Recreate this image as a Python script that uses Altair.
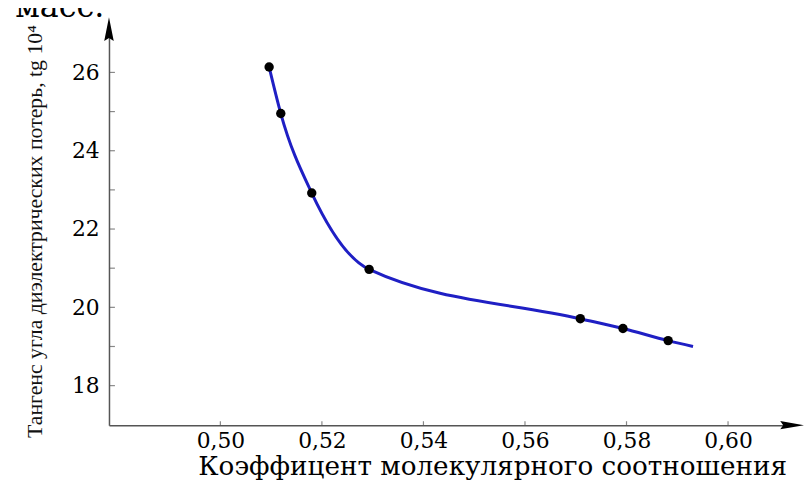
import altair as alt
import pandas as pd

# ---- data ----
x_vals = [0.5096, 0.5119, 0.5180, 0.5293, 0.5709, 0.5793, 0.5882]
y_vals = [26.14, 24.95, 22.92, 20.97, 19.71, 19.46, 19.15]
curve_end_x = [0.5931]
curve_end_y = [19.00]

x_ticks = [0.50, 0.52, 0.54, 0.56, 0.58, 0.60]
y_labels = [18, 20, 22, 24, 26]
y_ticks = [18, 19, 20, 21, 22, 23, 24, 25, 26]
x_domain = [0.47806, 0.61262]
y_domain = [16.99, 27.105]

x_title = "Коэффицент молекулярного соотношения"
y_title = "Тангенс угла диэлектрических потерь, tg 10⁴"
top_text = "х масс."

SERIF = "DejaVu Serif"
AXIS_COLOR = "#555555"

pts = pd.DataFrame({"x": x_vals, "y": y_vals})
line_df = pd.DataFrame({"x": x_vals + curve_end_x, "y": y_vals + curve_end_y})
xt_df = pd.DataFrame({"x": x_ticks, "y": [y_domain[0]] * len(x_ticks)})
yt_df = pd.DataFrame({"x": [x_domain[0]] * len(y_ticks), "y": y_ticks})
arrow_up = pd.DataFrame({"x": [x_domain[0]], "y": [y_domain[1]]})
arrow_right = pd.DataFrame({"x": [x_domain[1]], "y": [y_domain[0]]})

xs = alt.Scale(domain=x_domain, nice=False, zero=False)
ys = alt.Scale(domain=y_domain, nice=False, zero=False)

x_axis = alt.Axis(
    values=x_ticks,
    labelExpr="replace(format(datum.value, '.2f'), '.', ',')",
    ticks=False, tickSize=0, grid=False, labelFlush=False,
    labelPadding=6, labelFont=SERIF, labelFontSize=22, labelColor="black",
    domainColor=AXIS_COLOR, domainWidth=1.5,
    title=x_title, titleFont=SERIF, titleFontSize=26.5, titleFontWeight="normal",
    titleColor="black", titleX=387, titleY=50, titleAlign="center",
    titleBaseline="alphabetic",
)
y_axis = alt.Axis(
    values=y_labels, format="d",
    ticks=False, tickSize=0, grid=False, labelFlush=False,
    labelPadding=10, labelFont=SERIF, labelFontSize=22, labelColor="black",
    domainColor=AXIS_COLOR, domainWidth=1.5,
    title=y_title, titleFont="Liberation Serif", titleFontSize=22,
    titleFontWeight="normal", titleColor="#111111",
    titleX=-75, titleY=204, titleAlign="center", titleBaseline="middle",
    titleAngle=270,
)

X = alt.X("x:Q", scale=xs, axis=x_axis)
Y = alt.Y("y:Q", scale=ys, axis=y_axis)

line = alt.Chart(line_df).mark_line(
    color="#1f1fc4", strokeWidth=3, interpolate="monotone"
).encode(x=X, y=Y)

dots = alt.Chart(pts).mark_circle(color="black", size=90, opacity=1).encode(x=X, y=Y)

xticks = alt.Chart(xt_df).mark_tick(
    orient="vertical", size=4, thickness=1.2, color=AXIS_COLOR, yOffset=-2
).encode(x=X, y=Y)

yticks = alt.Chart(yt_df).mark_tick(
    orient="horizontal", size=6, thickness=1.2, color=AXIS_COLOR, xOffset=3
).encode(x=X, y=Y)

up = alt.Chart(arrow_up).mark_point(
    shape="M-0.4,1L0,-1L0.4,1L0,0.75Z", filled=True, size=576,
    color="black", opacity=1, strokeWidth=0
).encode(x=X, y=Y)

right = alt.Chart(arrow_right).mark_point(
    shape="M-1,-0.35L1,0L-1,0.35L-0.75,0Z", filled=True, size=576,
    color="black", opacity=1, strokeWidth=0
).encode(x=X, y=Y)

chart = alt.layer(line, xticks, yticks, dots, up, right).properties(
    width=690,
    height=400,
    autosize=alt.AutoSizeParams(type="none"),
    padding={"left": 102, "top": 19, "right": 12, "bottom": 54},
    title=alt.TitleParams(
        text=top_text, anchor="start", frame="group", font=SERIF, fontSize=32,
        fontWeight="normal", color="black", baseline="alphabetic",
        dx=-123, dy=32, offset=0,
    ),
).configure_view(stroke=None)

chart.save("out.html", embed_options={"renderer": "svg", "actions": False})
